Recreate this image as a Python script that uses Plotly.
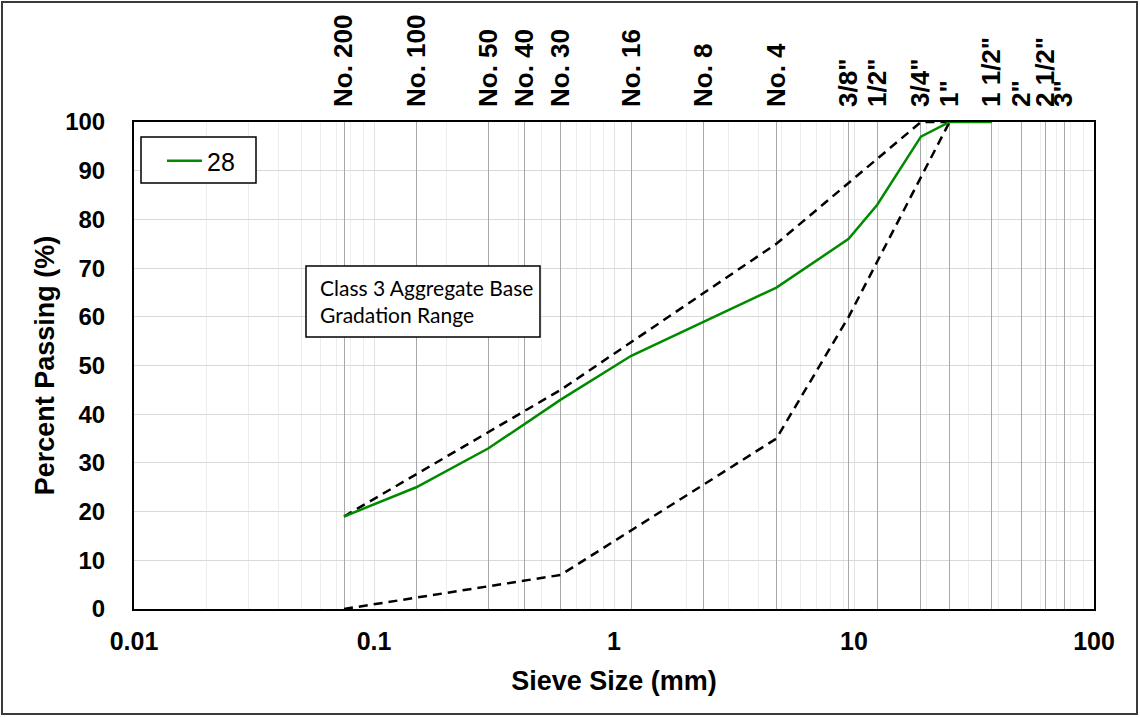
import plotly.graph_objects as go

# Sieve openings (mm) and their designations
sieve_mm = [0.075, 0.15, 0.3, 0.425, 0.6, 1.18, 2.36, 4.75, 9.5, 12.5, 19, 25, 37.5, 50, 63, 75]
sieve_names = ["No. 200", "No. 100", "No. 50", "No. 40", "No. 30", "No. 16", "No. 8", "No. 4",
               "3/8\"", "1/2\"", "3/4\"", "1\"", "1 1/2\"", "2\"", "2 1/2\"", "3\""]

# Sample 28 gradation
sample_mm = [0.075, 0.15, 0.3, 0.425, 0.6, 1.18, 2.36, 4.75, 9.5, 12.5, 19, 25, 37.5]
sample_pass = [19, 25, 33, 38, 43, 52, 59, 66, 76, 83, 97, 100, 100]

# Class 3 aggregate base gradation limits
upper_mm = [0.075, 0.6, 4.75, 19, 25]
upper_pass = [19, 45, 75, 100, 100]
lower_mm = [0.075, 0.6, 4.75, 9.5, 25]
lower_pass = [0, 7, 35, 60, 100]

# Axis ticks
x_ticks = [0.01, 0.1, 1, 10, 100]
x_tick_text = ["0.01", "0.1", "1", "10", "100"]
y_ticks = list(range(0, 101, 10))

FONT = "Liberation Sans, Arial, sans-serif"
W, H = 1140, 717
L, R, T, B = 134, 46, 122, 108
PW, PH = W - L - R, H - T - B

minor_vals = [m * 10 ** k for k in range(-2, 2) for m in range(2, 10)]

fig = go.Figure()
fig.add_trace(go.Scatter(x=upper_mm, y=upper_pass, mode="lines", showlegend=False,
                         line=dict(color="black", width=2.5, dash="9px,6px"), hoverinfo="skip"))
fig.add_trace(go.Scatter(x=lower_mm, y=lower_pass, mode="lines", showlegend=False,
                         line=dict(color="black", width=2.5, dash="9px,6px"), hoverinfo="skip"))
fig.add_trace(go.Scatter(x=sample_mm, y=sample_pass, mode="lines", name="28",
                         line=dict(color="#008a00", width=2.5)))
# carrier trace for the sieve-designation axis along the top
fig.add_trace(go.Scatter(x=sieve_mm, y=[None] * len(sieve_mm), xaxis="x2", mode="lines",
                         showlegend=False, hoverinfo="skip"))


def px_x(px):
    return (px - L) / PW


def px_y(py):
    return (H - B - py) / PH


fig.update_layout(
    width=W, height=H,
    margin=dict(l=L, r=R, t=T, b=B),
    paper_bgcolor="white", plot_bgcolor="white",
    font=dict(family=FONT, color="black"),
    xaxis=dict(
        type="log", range=[-2, 2],
        tickvals=x_ticks, ticktext=x_tick_text,
        tickfont=dict(family=FONT, size=25, weight="bold"),
        ticks="", ticklabelstandoff=9,
        showgrid=True, gridcolor="#e2e2e2", gridwidth=1,
        minor=dict(tickvals=minor_vals, showgrid=True, gridcolor="#ededed", gridwidth=1, ticks=""),
        showline=True, linecolor="black", linewidth=2, mirror=True,
        title=dict(text="<b>Sieve Size (mm)</b>", font=dict(family=FONT, size=27), standoff=17),
        zeroline=False,
    ),
    xaxis2=dict(
        type="log", range=[-2, 2], overlaying="x", side="top", anchor="y",
        tickvals=sieve_mm, ticktext=sieve_names, tickangle=-90,
        tickfont=dict(family=FONT, size=26, weight="bold"),
        ticks="", ticklabelstandoff=14,
        showgrid=True, gridcolor="#a8a8a8", gridwidth=1,
        showline=False, zeroline=False,
    ),
    yaxis=dict(
        range=[0, 100], tickvals=y_ticks,
        tickfont=dict(family=FONT, size=24, weight="bold"),
        ticks="", ticklabelstandoff=22,
        showgrid=True, gridcolor="#d9d9d9", gridwidth=1,
        showline=True, linecolor="black", linewidth=2, mirror=True,
        title=dict(text="<b>Percent Passing (%)</b>", font=dict(family=FONT, size=27), standoff=3),
        zeroline=False,
    ),
    legend=dict(
        x=px_x(162), y=px_y(138), xanchor="left", yanchor="top",
        bgcolor="rgba(0,0,0,0)", borderwidth=0,
        font=dict(family=FONT, size=25), itemwidth=35,
    ),
    shapes=[
        # legend frame
        dict(type="rect", xref="paper", yref="paper",
             x0=px_x(141), x1=px_x(256), y0=px_y(183), y1=px_y(137),
             line=dict(color="black", width=1.5), fillcolor="white", layer="above"),
        # text box for the gradation range note
        dict(type="rect", xref="paper", yref="paper",
             x0=px_x(306), x1=px_x(540), y0=px_y(337), y1=px_y(266),
             line=dict(color="black", width=1.5), fillcolor="white", layer="above"),
        # outer chart frame
        dict(type="rect", xref="paper", yref="paper",
             x0=px_x(2), x1=px_x(1137), y0=px_y(714), y1=px_y(2),
             line=dict(color="#3a3a3a", width=2), fillcolor="rgba(0,0,0,0)", layer="above"),
    ],
    annotations=[
        dict(text="Class 3 Aggregate Base<br>Gradation Range", xref="paper", yref="paper",
             x=px_x(318), y=px_y(301), xanchor="left", yanchor="middle", align="left",
             showarrow=False, font=dict(family="Lato, Carlito, sans-serif", size=21, color="black")),
    ],
    showlegend=True,
)

fig.write_html("out.html")
